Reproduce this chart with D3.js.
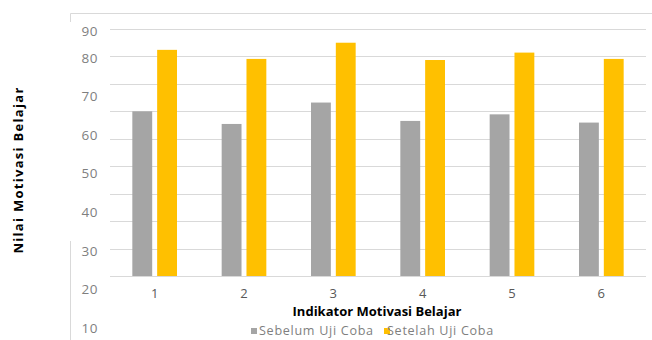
<!DOCTYPE html>
<html><head><meta charset="utf-8">
<script src="https://cdn.jsdelivr.net/npm/d3@7"></script>
<style>body{margin:0;background:#fff}svg{display:block}</style>
</head><body>
<svg id="c" width="652" height="340"></svg>
<script>
const categories = ["1","2","3","4","5","6"];
const seriesNames = ["Sebelum Uji Coba","Setelah Uji Coba"];
const sebelum = [60, 55.4, 63.2, 56.5, 58.9, 55.9];
const setelah = [82.4, 79.1, 85.0, 78.7, 81.4, 79.1];
const gridValues = [0,10,20,30,40,50,60,70,80,90];
const tickLabels = [90,80,70,60,50,40,30,20,10];
const colors = ["#a5a5a5","#ffc000"];

const svg = d3.select("#c");
const plotLeft = 110, plotRight = 646, plotTop = 29, plotBottom = 276;

const y = d3.scaleLinear().domain([0,90]).range([plotBottom, plotTop]);
// tick label positions as they appear in the reference
const yLabel = d3.scaleLinear().domain([10,80,90]).range([328,58,31]);
const x0 = d3.scaleBand().domain(categories).range([plotLeft,plotRight]).paddingInner(0.5).paddingOuter(0.25);
const x1 = d3.scaleBand().domain(seriesNames).range([0, x0.bandwidth()]).paddingInner(0.2);

// frame
const frame = svg.append("g").attr("stroke","#d9d9d9").attr("stroke-width",1);
frame.append("line").attr("x1",70.5).attr("x2",652).attr("y1",13.5).attr("y2",13.5);
frame.append("line").attr("x1",70.5).attr("x2",70.5).attr("y1",13.5).attr("y2",22);
frame.append("line").attr("x1",70.5).attr("x2",70.5).attr("y1",241).attr("y2",340);

// gridlines
svg.append("g").selectAll("line").data(gridValues).join("line")
  .attr("x1",plotLeft).attr("x2",plotRight)
  .attr("y1",d=>Math.round(y(d))+0.5).attr("y2",d=>Math.round(y(d))+0.5)
  .attr("stroke","#d9d9d9").attr("stroke-width",1);

// bars
const data = categories.map((c,i)=>({c, vals:[sebelum[i], setelah[i]]}));
const g = svg.append("g").selectAll("g").data(data).join("g")
  .attr("transform",d=>`translate(${x0(d.c)},0)`);
g.selectAll("rect").data(d=>d.vals.map((v,k)=>({v,k}))).join("rect")
  .attr("x",d=>x1(seriesNames[d.k])).attr("width",x1.bandwidth())
  .attr("y",d=>y(d.v)).attr("height",d=>y(0)-y(d.v))
  .attr("fill",d=>colors[d.k]);

// y tick labels
svg.append("g").selectAll("text").data(tickLabels).join("text")
  .attr("x",98).attr("y",d=>yLabel(d)).attr("dy","0.35em")
  .attr("text-anchor","end").attr("fill","#7f7f7f")
  .attr("font-family","Open Sans, sans-serif").attr("font-size",13.5)
  .attr("letter-spacing",0.5)
  .text(d=>d);

// x axis labels
const xAxis = d3.axisBottom(x0).tickSize(0).tickPadding(13);
const xa = svg.append("g").attr("transform",`translate(0,${plotBottom})`).call(xAxis);
xa.select(".domain").remove();
xa.selectAll("text").attr("fill","#595959").attr("font-family","Open Sans, sans-serif").attr("font-size",13);

// titles
svg.append("text").attr("x",377).attr("y",316).attr("text-anchor","middle")
  .attr("font-family","Open Sans, sans-serif").attr("font-weight","bold").attr("font-size",13)
  .attr("fill","#000").text("Indikator Motivasi Belajar");
svg.append("text").attr("transform","translate(23,170) rotate(-90)").attr("text-anchor","middle")
  .attr("font-family","Open Sans, sans-serif").attr("font-weight","bold").attr("font-size",13)
  .attr("letter-spacing",1.3)
  .attr("fill","#000").text("Nilai Motivasi Belajar");

// legend
const legX = [251, 384];
const lg = svg.append("g").selectAll("g").data(seriesNames).join("g")
  .attr("transform",(d,i)=>`translate(${legX[i]},331)`);
lg.append("rect").attr("x",0).attr("y",-3).attr("width",6).attr("height",6).attr("fill",(d,i)=>colors[i]);
lg.append("text").attr("x",(d,i)=>i===0?8:3).attr("dy","0.35em")
  .attr("fill","#7f7f7f").attr("font-family","Open Sans, sans-serif").attr("font-size",12.6)
  .attr("letter-spacing",0.7)
  .text(d=>d);
</script>
</body></html>
